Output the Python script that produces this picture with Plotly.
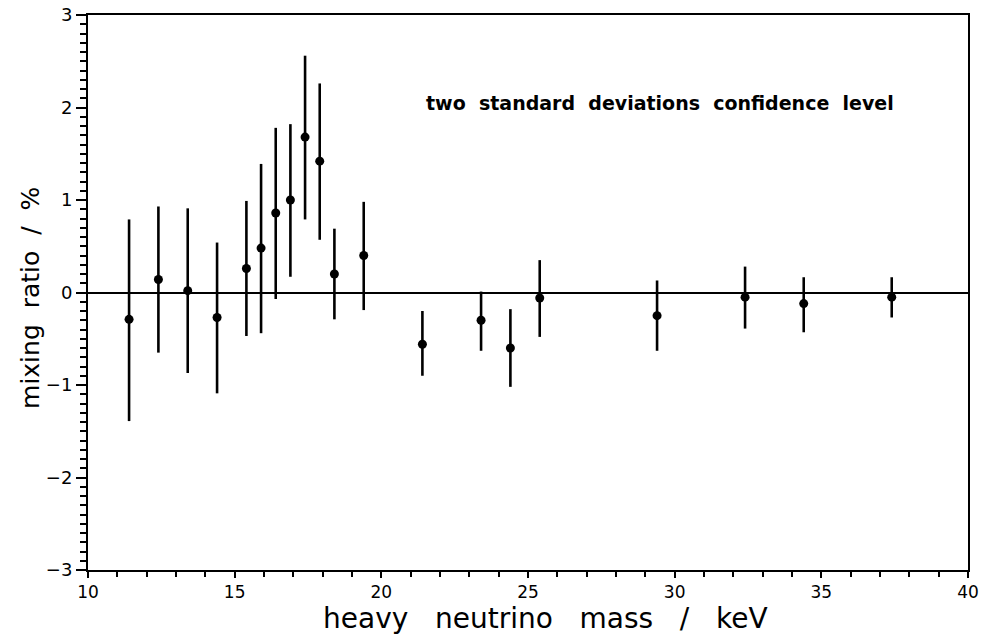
import plotly.graph_objects as go

mass_keV = [11.4, 12.4, 13.4, 14.4, 15.4, 15.9, 16.4, 16.9, 17.4, 17.9, 18.4, 19.4,
            21.4, 23.4, 24.4, 25.4, 29.4, 32.4, 34.4, 37.4]
mixing_pct = [-0.29, 0.14, 0.02, -0.27, 0.26, 0.48, 0.86, 1.00, 1.68, 1.42, 0.20, 0.40,
              -0.56, -0.30, -0.60, -0.06, -0.25, -0.05, -0.12, -0.05]
err_upper = [0.79, 0.93, 0.91, 0.54, 0.99, 1.39, 1.78, 1.82, 2.56, 2.26, 0.69, 0.98,
             -0.20, 0.01, -0.18, 0.35, 0.13, 0.28, 0.165, 0.165]
err_lower = [-1.39, -0.65, -0.87, -1.09, -0.47, -0.44, -0.07, 0.17, 0.79, 0.57, -0.29, -0.19,
             -0.90, -0.63, -1.02, -0.48, -0.63, -0.39, -0.43, -0.27]

plus = [u - v for u, v in zip(err_upper, mixing_pct)]
minus = [v - l for v, l in zip(mixing_pct, err_lower)]

FONT = "DejaVu Sans"
NB = "\u00a0"
SP2 = NB * 2
SP3 = NB * 3

fig = go.Figure()
fig.add_trace(go.Scatter(
    x=mass_keV, y=mixing_pct, mode="markers",
    marker=dict(color="black", size=9),
    error_y=dict(type="data", symmetric=False, array=plus, arrayminus=minus,
                 color="black", thickness=2.6, width=0),
    showlegend=False,
))

# in-plot note
fig.add_annotation(
    x=0.65, y=0.841, xref="paper", yref="paper", xanchor="center", yanchor="middle",
    text="<b>" + SP2.join(["two", "standard", "deviations", "confidence", "level</b>"]),
    showarrow=False, font=dict(family=FONT, size=19, color="black"),
)
# axis titles
fig.add_annotation(
    x=0.52, y=-0.087, xref="paper", yref="paper", xanchor="center", yanchor="middle",
    text=SP3.join(["heavy", "neutrino", "mass", "/", "keV"]),
    showarrow=False, font=dict(family=FONT, size=28, color="black"),
)
fig.add_annotation(
    x=-0.066, y=0.49, xref="paper", yref="paper", xanchor="center", yanchor="middle",
    text=SP2.join(["mixing", "ratio", "/", "%"]), textangle=-90,
    showarrow=False, font=dict(family=FONT, size=25, color="black"),
)

fig.update_layout(
    width=982, height=634,
    margin=dict(l=88, r=14, t=15, b=64, autoexpand=False),
    paper_bgcolor="white", plot_bgcolor="white",
    font=dict(family=FONT, color="black", size=18),
)
fig.update_xaxes(
    range=[10, 40], dtick=5, tick0=10, automargin=False, ticklabeloverflow="allow",
    showline=True, linecolor="black", linewidth=2, mirror=True,
    ticks="outside", ticklen=6, tickwidth=2, tickcolor="black",
    minor=dict(dtick=1, ticks="outside", ticklen=5, tickwidth=2, tickcolor="black"),
    tickfont=dict(size=17),
    showgrid=False, zeroline=False,
)
fig.update_yaxes(
    range=[-3, 3], dtick=1, tick0=0, automargin=False, ticklabeloverflow="allow",
    showline=True, linecolor="black", linewidth=2, mirror=True,
    ticks="outside", ticklen=10, tickwidth=2, tickcolor="black",
    minor=dict(dtick=0.1, ticks="outside", ticklen=6, tickwidth=1.5, tickcolor="black"),
    showgrid=False, zeroline=True, zerolinecolor="black", zerolinewidth=1.5,
)

fig.write_html("out.html", config={"displayModeBar": False},
               post_script="document.body.style.margin='0';document.body.style.padding='0';")
